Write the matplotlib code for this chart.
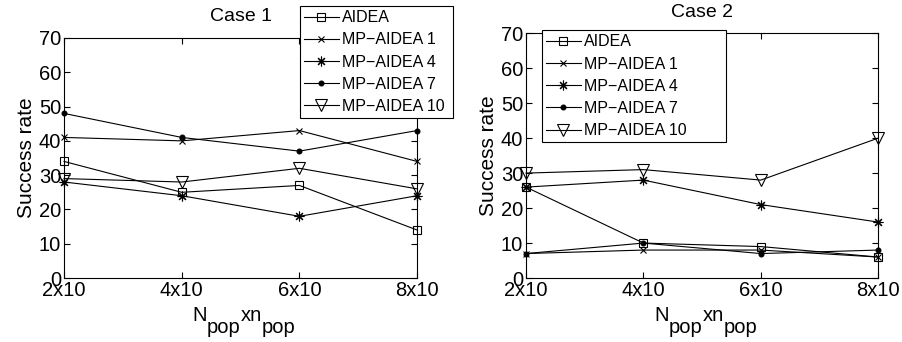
import numpy as np
import matplotlib.pyplot as plt

plt.rcParams['font.family'] = ['Liberation Sans', 'DejaVu Sans']

xlabels = ['2x10', '4x10', '6x10', '8x10']
names = ['AIDEA', 'MP\u2212AIDEA 1', 'MP\u2212AIDEA 4', 'MP\u2212AIDEA 7', 'MP\u2212AIDEA 10']

# case 1
case1_aidea = [34, 25, 27, 14]
case1_mp1 = [41, 40, 43, 34]
case1_mp4 = [28, 24, 18, 24]
case1_mp7 = [48, 41, 37, 43]
case1_mp10 = [29, 28, 32, 26]

# case 2
case2_aidea = [26, 10, 9, 6]
case2_mp1 = [7, 8, 8, 6]
case2_mp4 = [26, 28, 21, 16]
case2_mp7 = [7, 10, 7, 8]
case2_mp10 = [30, 31, 28, 40]

markers = [('s', 6), ('x', 5), ((8, 2, 0), 7), ('.', 7), ('v', 8)]

fig = plt.figure(figsize=(9.03, 3.42), dpi=100)
ax1 = fig.add_axes([0.0709, 0.187, 0.391, 0.702])
ax2 = fig.add_axes([0.5825, 0.187, 0.390, 0.716])

x = np.arange(len(xlabels))
cases = [(ax1, 'Case 1', [case1_aidea, case1_mp1, case1_mp4, case1_mp7, case1_mp10], (0.332, 0.685, 0.170, 0.297)),
         (ax2, 'Case 2', [case2_aidea, case2_mp1, case2_mp4, case2_mp7, case2_mp10], (0.600, 0.570, 0.204, 0.341))]

for ax, title, series, anchor in cases:
    for s, name, (m, ms) in zip(series, names, markers):
        ax.plot(x, s, color='k', lw=0.8, marker=m, markersize=ms,
                markerfacecolor='none' if m in ('s', 'v') else 'k',
                markeredgecolor='k', markeredgewidth=0.8, label=name, clip_on=False)
    ax.set_xlim(0, 3)
    ax.set_ylim(0, 70)
    ax.set_xticks(x)
    ax.set_xticklabels(xlabels)
    ax.set_yticks(np.arange(0, 71, 10))
    ax.tick_params(direction='in', top=True, right=True, labelsize=14.5, length=4, width=0.8, pad=2)
    for sp in ax.spines.values():
        sp.set_linewidth(0.8)
    ax.set_title(title, fontsize=14, pad=12)
    ax.set_ylabel('Success rate', fontsize=15, labelpad=2)
    leg = ax.legend(loc='upper left', bbox_to_anchor=anchor, bbox_transform=fig.transFigure,
                    mode='expand', fontsize=11.5, frameon=True, fancybox=False, framealpha=1,
                    edgecolor='k', handlelength=2.2, handletextpad=0.2, labelspacing=0.45,
                    borderpad=0.25, borderaxespad=0)
    leg.get_frame().set_linewidth(0.8)

    # x label N_pop x n_pop with big subscripts
    bb = ax.get_position()
    cx = (bb.x0 + bb.x1) / 2
    t = fig.text(cx - 48 / 903, 1 - 321 / 342, 'N', fontsize=14.5, ha='left', va='baseline')
    for piece, dy in [('pop', -12), ('xn', 12), ('pop', -12)]:
        t = ax.annotate(piece, xy=(1, 0), xycoords=t, xytext=(0, dy), textcoords='offset pixels',
                        fontsize=14.5, ha='left', va='bottom', annotation_clip=False)

plt.savefig('out.png', dpi=100)
